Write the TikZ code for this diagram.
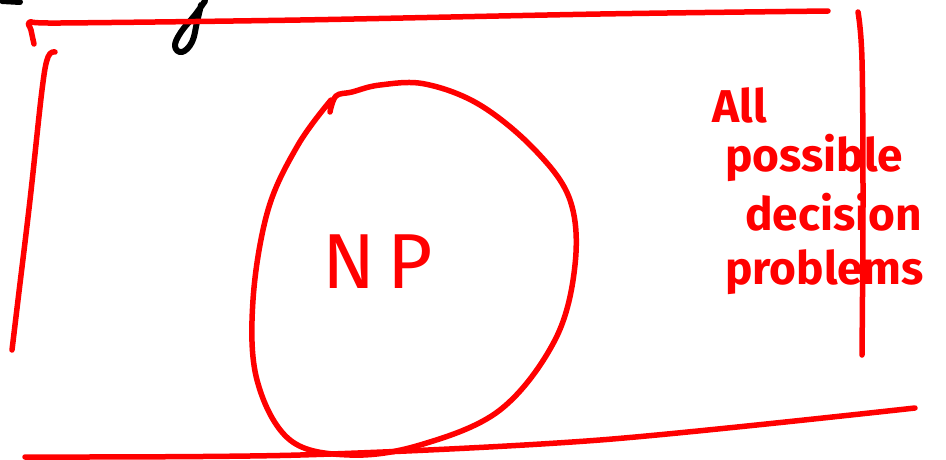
\documentclass[tikz,border=0pt]{standalone}
\usepackage{fontspec}
\setmainfont{Fira Sans}
\definecolor{pen}{RGB}{255,0,0}
\tikzset{
  stroke/.style={draw=pen, line width=5.5pt, line cap=round, line join=round},
  ink/.style={draw=black, line width=6pt, line cap=round, line join=round},
  hand/.style={text=pen, font=\fontsize{46}{46}\selectfont\bfseries, anchor=west, inner sep=0pt},
}
\begin{document}
\begin{tikzpicture}[x=1pt,y=-1pt]
\useasboundingbox (0,0) rectangle (946,459);
\fill[white] (0,0) rectangle (946,459);
% black fragment of earlier writing
\draw[ink] plot[smooth, tension=0.7] coordinates {(205,1) (195,15) (181,32) (175,46) (182,52) (192,42) (197,22) (201,5)};
\draw[ink] (2,1) -- (20,2);
% outer box (hand drawn)
\draw[stroke] plot[smooth, tension=0.5] coordinates {(34,44) (31,30) (30,22) (60,23) (300,20) (600,14) (828,11)};
\draw[stroke] plot[smooth, tension=0.6] coordinates {(55,52) (48,57) (42,90) (30,200) (18,300) (12,350)};
\draw[stroke] plot[smooth, tension=0.6] coordinates {(858,12) (862,60) (863,200) (862,355)};
\draw[stroke] plot[smooth, tension=0.5] coordinates {(25,457) (300,455) (600,440) (915,408)};
% NP circle
\draw[stroke] plot[smooth, tension=0.6] coordinates {(330,112) (336,96) (352,92) (380,85) (425,84) (480,105) (535,150) (570,200) (575,265) (555,340) (500,410) (420,445) (350,455) (290,440) (257,380) (253,300) (268,210) (298,145) (331,100)};
\node[hand, font=\fontsize{78}{78}\selectfont] (np) at (322,262) {N\kern12pt P};
% label
\node[hand] (l1) at (712,105) {All};
\node[hand] (l2) at (725,158) {possible};
\node[hand] (l3) at (745,212) {decision};
\node[hand] (l4) at (725,272) {problems};
\end{tikzpicture}
\end{document}
